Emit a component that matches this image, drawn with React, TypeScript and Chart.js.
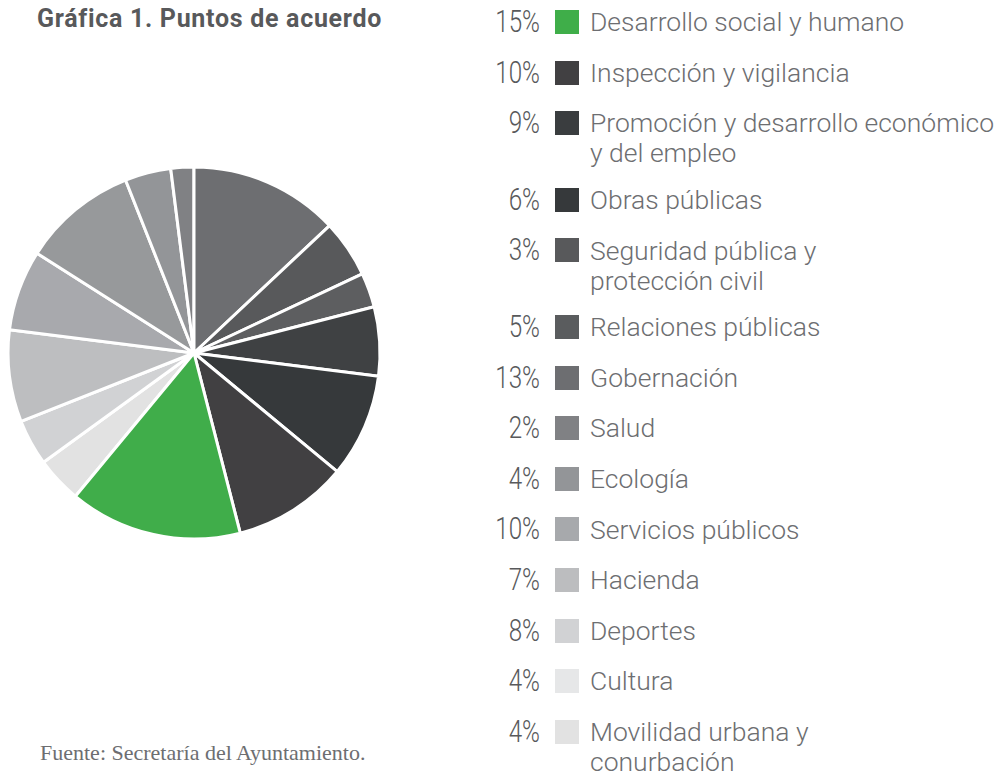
import React, { useEffect, useRef } from "react";
import { Chart, registerables } from "chart.js";

Chart.register(...registerables);

const title = "Gráfica 1. Puntos de acuerdo";
const source = "Fuente: Secretaría del Ayuntamiento.";

// Legend order (top to bottom)
const categories: (string | string[])[] = [
  "Desarrollo social y humano",
  "Inspección y vigilancia",
  ["Promoción y desarrollo económico", "y del empleo"],
  "Obras públicas",
  ["Seguridad pública y", "protección civil"],
  "Relaciones públicas",
  "Gobernación",
  "Salud",
  "Ecología",
  "Servicios públicos",
  "Hacienda",
  "Deportes",
  "Cultura",
  ["Movilidad urbana y", "conurbación"],
];

const values = [15, 10, 9, 6, 3, 5, 13, 2, 4, 10, 7, 8, 4, 4];

const percentLabels = values.map((v) => `${v}%`);

const legendColors = [
  "#3fae49", "#414042", "#3a3d3f", "#36393b", "#58595b", "#5a5c5e", "#6d6e71",
  "#808184", "#939598", "#a7a9ac", "#bcbdbf", "#d1d2d4", "#e6e7e8", "#e2e2e2",
];

const sliceColors = [
  "#40ad4a", "#414042", "#36393b", "#3f4143", "#5d5e60", "#58595b", "#6d6e71",
  "#808184", "#939598", "#97999b", "#a8a9ad", "#bdbec0", "#d1d2d4", "#e2e2e2",
];

// Slice that begins at 12 o'clock
const startCategory = "Gobernación";

function PieChart() {
  const ref = useRef<HTMLCanvasElement | null>(null);
  useEffect(() => {
    if (!ref.current) return;
    // pie is drawn in reverse legend order (legend order runs counter-clockwise)
    const revLabels = [...categories].reverse();
    const revValues = [...values].reverse();
    const revColors = [...sliceColors].reverse();
    const total = values.reduce((a, b) => a + b, 0);
    const startIdx = revLabels.indexOf(startCategory);
    const before = revValues.slice(0, startIdx).reduce((a, b) => a + b, 0);
    const chart = new Chart(ref.current, {
      type: "pie",
      data: {
        labels: revLabels as any,
        datasets: [
          {
            data: revValues,
            backgroundColor: revColors,
            borderColor: "#ffffff",
            borderWidth: 3,
          },
        ],
      },
      options: {
        responsive: false,
        maintainAspectRatio: false,
        animation: false,
        rotation: (-360 * before) / total,
        radius: 186,
        layout: { padding: 0 },
        plugins: {
          legend: { display: false },
          tooltip: { enabled: false },
          title: { display: false },
        },
        events: [],
      },
    });
    return () => chart.destroy();
  }, []);
  return (
    <canvas
      ref={ref}
      width={380}
      height={380}
      style={{ position: "absolute", left: 4, top: 163, width: 380, height: 380 }}
    />
  );
}

export default function App() {
  const rows: { top: number; i: number }[] = [];
  let y = 22;
  categories.forEach((c, i) => {
    rows.push({ top: y, i });
    const lines = Array.isArray(c) ? c.length : 1;
    y += 50.6 + 26 * (lines - 1);
  });

  return (
    <div
      style={{
        position: "absolute",
        left: 0,
        top: 0,
        width: 1000,
        height: 776,
        background: "#ffffff",
        overflow: "hidden",
      }}
    >
      <div
        style={{
          position: "absolute",
          left: 37,
          top: 6,
          fontFamily: "Roboto, sans-serif",
          fontWeight: 700,
          fontSize: 25,
          lineHeight: "25px",
          letterSpacing: 0.7,
          color: "#58595b",
          whiteSpace: "nowrap",
        }}
      >
        {title}
      </div>
      <PieChart />
      {rows.map(({ top, i }) => {
        const c = categories[i];
        const lines = Array.isArray(c) ? c : [c];
        return (
          <React.Fragment key={i}>
            <div
              style={{
                position: "absolute",
                left: 400,
                width: 140,
                top: top - 18,
                fontFamily: "Roboto, sans-serif",
                fontWeight: 300,
                fontSize: 31,
                lineHeight: "36px",
                color: "#58595b",
                textAlign: "right",
                transform: "scaleX(0.78)",
                transformOrigin: "right center",
                whiteSpace: "nowrap",
              }}
            >
              {percentLabels[i]}
            </div>
            <div
              style={{
                position: "absolute",
                left: 555,
                top: top - 12,
                width: 24,
                height: 24,
                background: legendColors[i],
              }}
            />
            <div
              style={{
                position: "absolute",
                left: 590,
                top: top - 14.8,
                fontFamily: "Roboto, sans-serif",
                fontWeight: 300,
                fontSize: 26.5,
                lineHeight: "30px",
                color: "#6d6e71",
                whiteSpace: "nowrap",
              }}
            >
              {lines.map((l, k) => (
                <div key={k}>{l}</div>
              ))}
            </div>
          </React.Fragment>
        );
      })}
      <div
        style={{
          position: "absolute",
          left: 40,
          top: 742,
          fontFamily: "'Liberation Serif', serif",
          fontSize: 22,
          lineHeight: "22px",
          color: "#6d6e71",
          whiteSpace: "nowrap",
        }}
      >
        {source}
      </div>
    </div>
  );
}
